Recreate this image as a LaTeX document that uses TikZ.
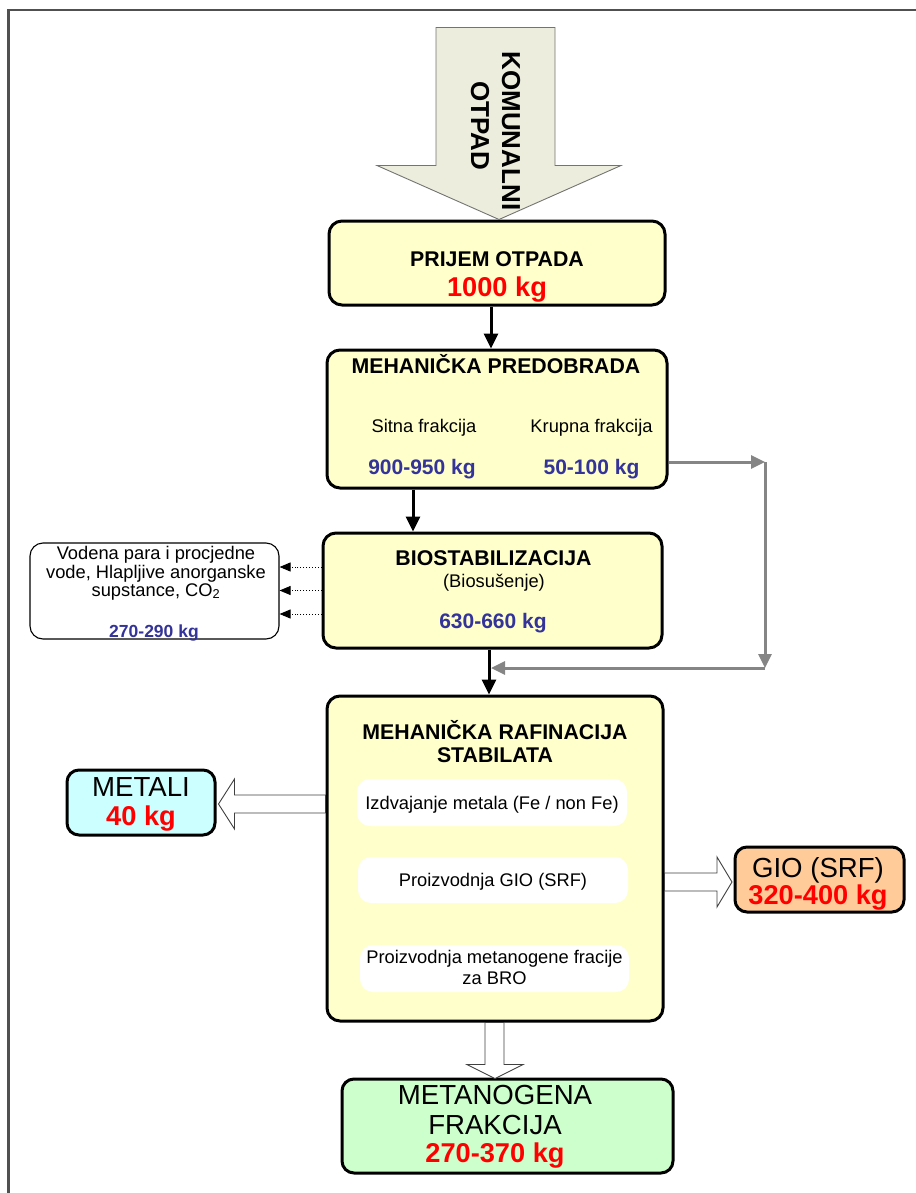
\documentclass[tikz,border=0pt]{standalone}
\usepackage{fontspec}
\setmainfont{Liberation Sans}
\usetikzlibrary{arrows.meta,calc}
\definecolor{yel}{HTML}{FFFFCC}
\definecolor{nblue}{HTML}{333399}
\definecolor{cyanb}{HTML}{CCFFFF}
\definecolor{orab}{HTML}{FFCC99}
\definecolor{greb}{HTML}{CCFFCC}
\definecolor{arrg}{HTML}{858585}
\definecolor{bigar}{HTML}{EDEDDE}
\definecolor{frame}{HTML}{505050}
\tikzset{
  ybox/.style={draw=black, line width=3pt, fill=yel, rounded corners=13pt, inner sep=0pt},
  cbox/.style={draw=black, line width=3pt, rounded corners=12pt, inner sep=0pt},
  wbox/.style={draw=black, line width=1.1pt, fill=white, rounded corners=13pt, inner sep=0pt},
  ibox/.style={draw=none, fill=white, rounded corners=13pt, inner sep=0pt},
  hdr/.style={font=\fontsize{21.3}{25}\selectfont\bfseries, inner sep=0pt, anchor=base},
  lab/.style={font=\fontsize{18.3}{22}\selectfont, inner sep=0pt, anchor=base},
  num/.style={font=\fontsize{21}{25}\selectfont\bfseries, text=nblue, inner sep=0pt, anchor=base},
  big/.style={font=\fontsize{27.6}{32}\selectfont, inner sep=0pt, anchor=base},
  bignum/.style={font=\fontsize{27.2}{32}\selectfont\bfseries, text=red, inner sep=0pt, anchor=base},
  blk/.style={draw=black, line width=3pt, -{Triangle[length=15pt,width=14pt]}},
  gry/.style={draw=arrg, line width=3pt, -{Triangle[length=14pt,width=13pt]}},
  dot/.style={draw=black, line width=0.9pt, dotted, -{Triangle[length=11pt,width=9pt]}},
  hollow/.style={draw=black!75, line width=0.9pt, fill=white, line join=miter},
}
\begin{document}
\begin{tikzpicture}[x=1pt,y=-1pt]
\useasboundingbox (0,0) rectangle (915,1193);
% frame
\draw[frame, line width=2.2pt] (8.5,1200) -- (8.5,10) -- (920,10);

% boxes
\node[ybox, minimum width=336pt, minimum height=84pt] (prijem) at (497,263) {};
\node[ybox, minimum width=340pt, minimum height=138pt] (mehpre) at (497,419) {};
\node[ybox, minimum width=339pt, minimum height=115pt] (bio) at (492.5,590.5) {};
\node[ybox, minimum width=336pt, minimum height=325pt] (mr) at (495,858.5) {};
\node[cbox, fill=cyanb, minimum width=148pt, minimum height=65pt] (metali) at (141,802.5) {};
\node[cbox, fill=orab, minimum width=169pt, minimum height=65pt] (gio) at (819.5,879.5) {};
\node[cbox, fill=greb, minimum width=331pt, minimum height=94pt] (metan) at (507.5,1126) {};
\node[wbox, minimum width=249pt, minimum height=96pt] (left) at (154.5,591) {};
\node[ibox, minimum width=270pt, minimum height=47pt] (in1) at (492,802.5) {};
\node[ibox, minimum width=270pt, minimum height=46pt] (in2) at (493,880) {};
\node[ibox, minimum width=269pt, minimum height=47pt] (in3) at (494.5,968.5) {};

% big input arrow
\coordinate (intip) at ($(prijem.north)+(2,0)$);
\draw[draw=black!55, line width=0.9pt, fill=bigar]
  (intip) -- ++(-122,-54) -- ++(59,0) -- ++(0,-138) -- ++(119,0) -- ++(0,138) -- ++(66,0) -- cycle;
\node[font=\fontsize{26}{30}\selectfont\bfseries, inner sep=0pt, anchor=base, rotate=-90] (kom) at (502,131) {KOMUNALNI};
\node[font=\fontsize{26}{30}\selectfont\bfseries, inner sep=0pt, anchor=base, rotate=-90] (otp) at (471,126) {OTPAD};

% texts
\node[hdr] (t1) at (497,266) {PRIJEM OTPADA};
\node[bignum] (t2) at (497,296) {1000 kg};
\node[hdr] (t3) at (496,373) {MEHANIČKA PREDOBRADA};
\node[lab] (t4) at (424,432) {Sitna frakcija};
\node[lab] (t5) at (591.5,432) {Krupna frakcija};
\node[num] (t6) at (422,474) {900-950 kg};
\node[num] (t7) at (591.5,474) {50-100 kg};
\node[hdr] (t8) at (493.5,565) {BIOSTABILIZACIJA};
\node[lab] (t9) at (494,587) {(Biosušenje)};
\node[num] (t10) at (493,628) {630-660 kg};
\node[lab] (t11) at (156,559) {Vodena para i procjedne};
\node[lab] (t12) at (156,578) {vode, Hlapljive anorganske};
\node[lab] (t13) at (156,596) {supstance, CO\textsubscript{2}};
\node[num, font=\fontsize{17.5}{21}\selectfont\bfseries] (t14) at (154,637) {270-290 kg};
\node[hdr] (t15) at (495,739) {MEHANIČKA RAFINACIJA};
\node[hdr] (t16) at (495,762) {STABILATA};
\node[lab] (t17) at (492,809) {Izdvajanje metala (Fe / non Fe)};
\node[lab] (t18) at (493,886) {Proizvodnja GIO (SRF)};
\node[lab] (t19) at (494.5,963) {Proizvodnja metanogene fracije};
\node[lab] (t20) at (494.5,984) {za BRO};
\node[big] (t21) at (141,796) {METALI};
\node[bignum] (t22) at (141,825) {40 kg};
\node[big] (t23) at (818,877) {GIO (SRF)};
\node[bignum] (t24) at (818,904) {320-400 kg};
\node[big] (t25) at (495,1104) {METANOGENA};
\node[big] (t26) at (495,1134) {FRAKCIJA};
\node[bignum] (t27) at (495,1162) {270-370 kg};

% black connectors
\coordinate (x1) at (491,0);
\coordinate (x2) at (413,0);
\coordinate (x3) at (489,0);
\draw[blk] (prijem.south -| x1) -- (mehpre.north -| x1);
\draw[blk] (mehpre.south -| x2) -- (bio.north -| x2);
\draw[blk] (bio.south -| x3) -- (mr.north -| x3);

% gray bypass
\coordinate (g1) at (765,462);
\coordinate (g2) at (765,668);
\coordinate (g3) at (491,668);
\draw[gry] (mehpre.east |- g1) -- (g1);
\draw[gry] (g1) -- (g2);
\draw[gry] (g2) -- (g3);

% dotted outputs
\draw[dot] ($(bio.west)+(0,-23.5)$) -- ($(left.east |- bio.west)+(0,-23.5)$);
\draw[dot] (bio.west) -- (left.east |- bio.west);
\draw[dot] ($(bio.west)+(0,23.5)$) -- ($(left.east |- bio.west)+(0,23.5)$);

% hollow arrows
\coordinate (mtip) at ($(metali.east)+(2,1.5)$);
\draw[hollow] (mtip) -- ++(16,-25) -- ++(0,16) -- ($(mtip -| mr.west)+(0,-9)$)
  -- ($(mtip -| mr.west)+(0,9)$) -- ($(mtip)+(16,9)$) -- ++(0,16) -- cycle;
\coordinate (gtip) at ($(gio.west)+(-1.5,2.5)$);
\draw[hollow] (gtip) -- ++(-15,-25) -- ++(0,16) -- ($(gtip -| mr.east)+(0,-9)$)
  -- ($(gtip -| mr.east)+(0,9)$) -- ($(gtip)+(-15,9)$) -- ++(0,16) -- cycle;
\coordinate (btip) at ($(metan.north)+(-12.5,1)$);
\draw[hollow] (btip) -- ++(-28,-14) -- ++(18,0) -- ($(btip |- mr.south)+(-10,0)$)
  -- ($(btip |- mr.south)+(9,0)$) -- ($(btip)+(9,-14)$) -- ++(19,0) -- cycle;
\end{tikzpicture}
\end{document}
